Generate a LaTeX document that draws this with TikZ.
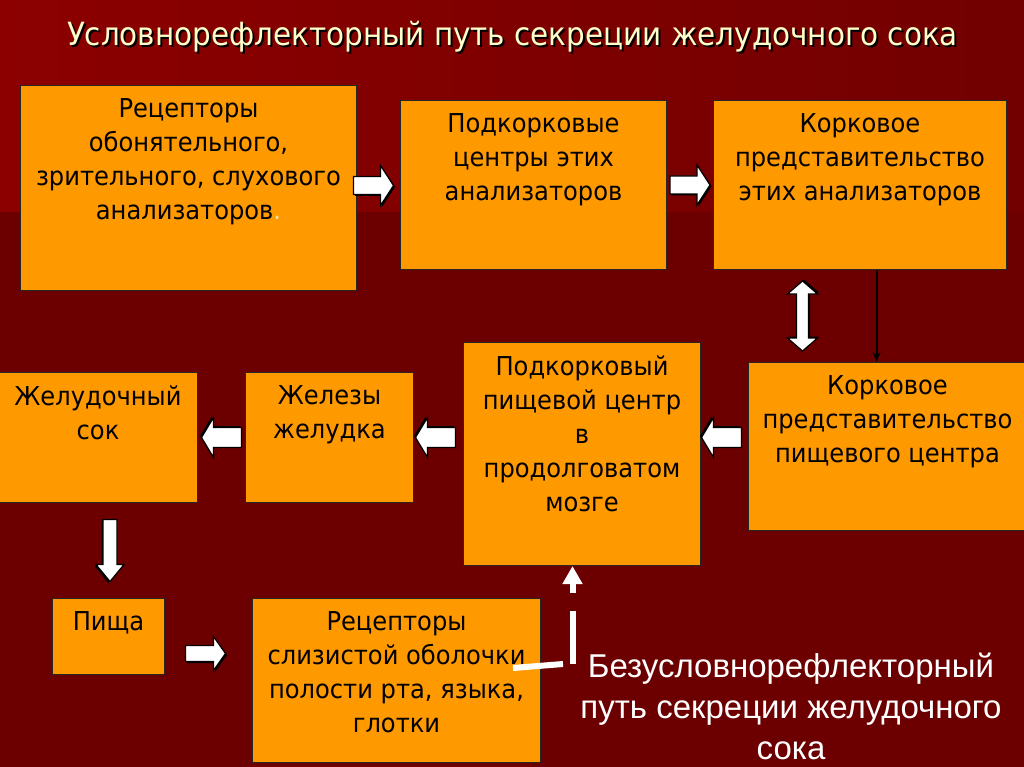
\documentclass[tikz,border=0pt]{standalone}
\usepackage{fontspec}
\setmainfont{DejaVu Sans}[FakeStretch=0.93]
\newfontfamily\titlefont{DejaVu Sans}[FakeStretch=0.92]
\newfontfamily\capfont{Liberation Sans}
\usetikzlibrary{arrows.meta,calc}
\definecolor{bgtop}{HTML}{8C0000}
\definecolor{bgtopr}{HTML}{720000}
\definecolor{bglow}{HTML}{6C0000}
\definecolor{boxfill}{HTML}{FF9900}
\definecolor{titlecol}{HTML}{FFFFCC}
\definecolor{dotcol}{HTML}{FFE0B0}
\newcommand{\bxt}[3]{\parbox[c][#2pt][t]{#1pt}{\centering\vspace*{13pt}#3\par}}
\begin{document}
\begin{tikzpicture}[x=1pt,y=-1pt,
  box/.style={draw=black!85, line width=1pt, fill=boxfill, inner sep=0pt, anchor=north west,
              font=\fontsize{26}{34}\selectfont},
  pics/barrow/.style n args={4}{code={
    \pgfmathsetmacro\baA{#1/2}\pgfmathsetmacro\baB{#1/2-#4}
    \fill[black,shift={(1.5,1.5)}] (-\baA,-#2) -- (\baB,-#2) -- (\baB,-#3) -- (\baA,0) -- (\baB,#3) -- (\baB,#2) -- (-\baA,#2) -- cycle;
    \filldraw[fill=white,draw=black,line width=1.2pt,line join=miter] (-\baA,-#2) -- (\baB,-#2) -- (\baB,-#3) -- (\baA,0) -- (\baB,#3) -- (\baB,#2) -- (-\baA,#2) -- cycle;
  }},
  pics/dbarrow/.style n args={4}{code={
    \pgfmathsetmacro\baA{#1/2}\pgfmathsetmacro\baB{#1/2-#4}
    \fill[black,shift={(1.5,1.5)}] (-\baA,0) -- (-\baB,-#3) -- (-\baB,-#2) -- (\baB,-#2) -- (\baB,-#3) -- (\baA,0) -- (\baB,#3) -- (\baB,#2) -- (-\baB,#2) -- (-\baB,#3) -- cycle;
    \filldraw[fill=white,draw=black,line width=1.2pt,line join=miter] (-\baA,0) -- (-\baB,-#3) -- (-\baB,-#2) -- (\baB,-#2) -- (\baB,-#3) -- (\baA,0) -- (\baB,#3) -- (\baB,#2) -- (-\baB,#2) -- (-\baB,#3) -- cycle;
  }},
  whiteline/.style={white, line width=6pt},
  titletext/.style={font=\titlefont\fontsize{32}{36}\selectfont, anchor=base},
]
\useasboundingbox (0,0) rectangle (1024,767);
% background
\fill[bglow] (0,0) rectangle (1024,767);
\shade[left color=bgtop, right color=bgtopr] (0,0) rectangle (1024,212);

% title
\node[titletext, text=black] (titleshadow) at (514.5,48)
  {Условнорефлекторный путь секреции желудочного сока};
\node[titletext, text=titlecol] (title) at (512.5,46)
  {Условнорефлекторный путь секреции желудочного сока};

% boxes
\node[box] (b1) at (20,85)  {\bxt{336}{205}{Рецепторы\\обонятельного,\\зрительного, слухового\\анализаторов\textcolor{dotcol}{.}}};
\node[box] (b2) at (400,100) {\bxt{266}{169}{Подкорковые\\центры этих\\анализаторов}};
\node[box] (b3) at (713,100) {\bxt{293}{169}{Корковое\\представительство\\этих анализаторов}};
\node[box] (b4) at (748,362) {\bxt{278}{168}{Корковое\\представительство\\пищевого центра}};
\node[box] (b5) at (463,342) {\bxt{237}{223}{Подкорковый\\пищевой центр\\в\\продолговатом\\мозге}};
\node[box] (b6) at (245,372) {\bxt{168}{130}{Железы\\желудка}};
\node[box] (b7) at (-2,372)  {\bxt{199}{130}{Желудочный\\сок}};
\node[box] (b8) at (52,598)  {\bxt{112}{76}{Пища}};
\node[box] (b9) at (252,598) {\bxt{288}{164}{Рецепторы\\слизистой оболочки\\полости рта, языка,\\глотки}};

% block arrows
\coordinate (m12) at ($(b1.east)!0.5!(b2.west)$);
\pic at ([xshift=-5pt,yshift=1pt]m12) {barrow={40}{9}{20}{13}};
\coordinate (m23) at ($(b2.east)!0.5!(b3.west)$);
\pic at (m23) {barrow={40}{9}{20}{13}};
\coordinate (m34) at ($(b3.south)!0.5!(b3.south |- b4.north)$);
\pic[rotate=90] at ([xshift=-57.5pt]m34) {dbarrow={70}{6}{15}{13}};
\coordinate (m45a) at ($(b5.east)!0.5!(b4.west)$);
\coordinate (m45) at (m45a |- b6.center);
\pic[rotate=180] at ([xshift=-3pt]m45) {barrow={40}{10}{20}{12}};
\coordinate (m56a) at ($(b6.east)!0.5!(b5.west)$);
\coordinate (m56) at (m56a |- b6.center);
\pic[rotate=180] at ([xshift=-3pt]m56) {barrow={40}{10}{20}{12}};
\coordinate (m67a) at ($(b7.east)!0.5!(b6.west)$);
\coordinate (m67) at (m67a |- b6.center);
\pic[rotate=180] at (m67) {barrow={40}{10}{20}{12}};
\coordinate (m78) at ($(b7.south)!0.5!(b7.south |- b8.north)$);
\pic[rotate=-90] at ([xshift=12pt]m78) {barrow={62}{7}{14}{17}};
\coordinate (m89) at ($(b8.east)!0.5!(b9.west |- b8.east)$);
\pic at ([xshift=-3pt,yshift=-17pt]m89) {barrow={40}{8}{17}{12}};

% thin arrow from b3 to b4
\draw[line width=2pt,-{Stealth[length=10pt,width=8pt]}] ([xshift=16.5pt]b3.south) -- ([xshift=16.5pt]b3.south |- b4.north);

% unconditioned path
\coordinate (upbase) at ([xshift=-9.5pt,yshift=-27pt]b5.south);
\draw[white, line width=6pt, -{Triangle[width=19pt,length=18pt]}] (upbase) -- ([xshift=-9.5pt]b5.south);
\coordinate (vtop) at ([xshift=-9.5pt,yshift=-45pt]b5.south);
\coordinate (vbot) at ([xshift=-9.5pt,yshift=-98pt]b5.south);
\draw[whiteline] (vtop) -- (vbot);
\coordinate (hleft) at (513,668);
\coordinate (hright) at (563,664);
\draw[whiteline] (hleft) -- (hright);

\node[font=\capfont\fontsize{33}{41}\selectfont, text=white, align=center, anchor=base] (cap) at (791,759)
  {Безусловнорефлекторный\\путь секреции желудочного\\сока};
\end{tikzpicture}
\end{document}
